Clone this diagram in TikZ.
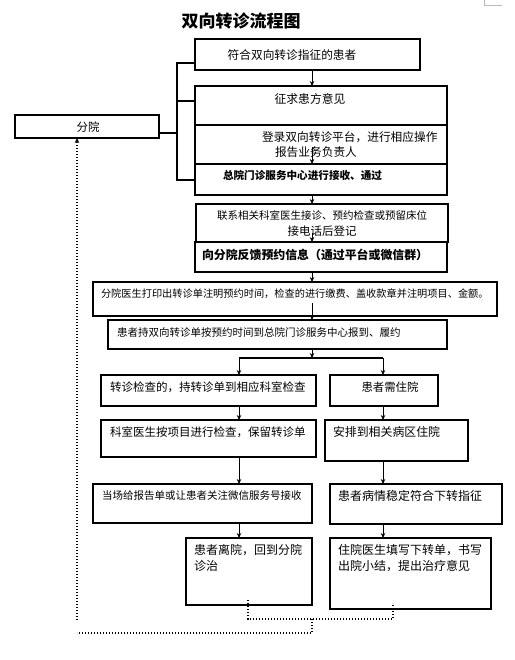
\documentclass[tikz,border=0pt]{standalone}
\usepackage{fontspec}
\setmainfont{Noto Sans CJK SC}
\usetikzlibrary{arrows.meta}
\begin{document}
\begin{tikzpicture}[x=1pt,y=-1pt,
  box/.style={draw, line width=1.8pt, inner sep=0, outer sep=0, anchor=north west},
  txt/.style={inner sep=0, outer sep=0, anchor=west},
  ctxt/.style={inner sep=0, outer sep=0, anchor=center},
  fs/.style={font=\fontsize{#1}{#1}\selectfont},
  conn/.style={line width=1pt, -{Stealth[length=5pt,width=4.5pt]}},
  plain/.style={line width=1.1pt},
  dots/.style={line width=1.2pt, dash pattern=on 1.2pt off 1.8pt}
]
\useasboundingbox (0,0) rectangle (514,660);
% page corner mark
\draw[gray!55, line width=0.7pt] (484,0) -- (484,5) -- (502,5);

% title
\node[ctxt, font=\fontsize{17}{17}\selectfont\bfseries] (title) at (241,21) {双向转诊流程图};

% boxes
\node[box, minimum width=225pt, minimum height=31pt] (b1) at (195,39) {};
\node[box, minimum width=252pt, minimum height=39pt] (b2a) at (195,86) {};
\node[box, minimum width=252pt, minimum height=39pt] (b2b) at (195,125) {};
\node[box, minimum width=252pt, minimum height=31pt] (b2c) at (195,164) {};
\node[box, minimum width=252pt, minimum height=38pt] (b4) at (196,204) {};
\node[box, minimum width=252pt, minimum height=30pt] (b5) at (195,242) {};
\node[box, minimum width=404pt, minimum height=34pt] (b6) at (93,282) {};
\node[box, minimum width=339pt, minimum height=29pt] (b7) at (108,320) {};
\node[box, minimum width=215pt, minimum height=31pt] (b8) at (101,375) {};
\node[box, minimum width=108pt, minimum height=31pt] (b9) at (330,375) {};
\node[box, minimum width=215pt, minimum height=37pt] (b10) at (101,420) {};
\node[box, minimum width=143pt, minimum height=41pt] (b11) at (325,420) {};
\node[box, minimum width=219pt, minimum height=39pt] (b12) at (93,484) {};
\node[box, minimum width=172pt, minimum height=40pt] (b13) at (330,484) {};
\node[box, minimum width=126pt, minimum height=67pt] (b14) at (186,538) {};
\node[box, minimum width=161pt, minimum height=71pt] (b15) at (330,538) {};
\node[box, minimum width=144pt, minimum height=23pt] (fen) at (15,115) {};

% texts
\node[ctxt, fs=11.7] (t1) at (292,55) {符合双向转诊指征的患者};
\node[ctxt, fs=11.8] (t2a) at (310,99) {征求患方意见};
\node[txt, fs=11.7] (t2b1) at (262,137) {登录双向转诊平台，进行相应操作};
\node[txt, fs=11.7] (t2b2) at (275,152) {报告业务负责人};
\node[txt, font=\fontsize{10.6}{11}\selectfont\bfseries] (t2c) at (223,175) {总院门诊服务中心进行接收、通过};
\node[ctxt, fs=10.5] (t4a) at (322,215) {联系相关科室医生接诊、预约检查或预留床位};
\node[ctxt, fs=11.5] (t4b) at (322,231) {接电话后登记};
\node[txt, font=\fontsize{11.9}{12}\selectfont\bfseries] (t5) at (202,255) {向分院反馈预约信息（通过平台或微信群）};
\node[txt, fs=10.2] (t6) at (101,294) {分院医生打印出转诊单注明预约时间，检查的进行缴费、盖收款章并注明项目、金额。};
\node[txt, fs=10.5] (t7) at (117,332) {患者持双向转诊单按预约时间到总院门诊服务中心报到、履约};
\node[txt, fs=11.5] (t8) at (110,387) {转诊检查的，持转诊单到相应科室检查};
\node[ctxt, fs=11.4] (t9) at (390,387) {患者需住院};
\node[txt, fs=11.5] (t10) at (110,432) {科室医生按项目进行检查，保留转诊单};
\node[txt, fs=11.9] (t11) at (333,432) {安排到相关病区住院};
\node[txt, fs=10.5] (t12) at (102,496) {当场给报告单或让患者关注微信服务号接收};
\node[txt, fs=12] (t13) at (338,496) {患者病情稳定符合下转指征};
\node[txt, fs=12] (t14a) at (194,550) {患者离院，回到分院};
\node[txt, fs=12] (t14b) at (194,566) {诊治};
\node[txt, fs=12] (t15a) at (338,550) {住院医生填写下转单，书写};
\node[txt, fs=12] (t15b) at (338,566) {出院小结，提出治疗意见};
\node[ctxt, fs=11.5] (tfen) at (88,127) {分院};

% helper coordinates
\coordinate (ax) at (312,0);
\coordinate (lx) at (239,0);
\coordinate (rx) at (383,0);
\coordinate (bx) at (177,0);
\coordinate (split) at (312,358);
\coordinate (a2s) at (312,147);
\coordinate (a4s) at (312,233);
\coordinate (a6s) at (312,303);
\coordinate (fy) at (0,133);
\coordinate (d1) at (248,600);
\coordinate (d2) at (248,619);
\coordinate (d3) at (393,619);
\coordinate (d4) at (393,603);
\coordinate (d5) at (312,619);
\coordinate (d6) at (312,633);
\coordinate (d7) at (77,633);
\coordinate (d8) at (77,620);

% bracket from 分院
\draw[plain] (b1.west |- 0,63) -- (bx |- 0,63) -- (bx |- 0,180) -- (b2c.west |- 0,180);
\draw[plain] (bx |- 0,101) -- (b2a.west |- 0,101);
\draw[plain] (fen.east |- fy) -- (bx |- fy);

% main arrows
\draw[conn] (b1.south -| ax) -- (b2a.north -| ax);
\draw[conn] (a2s) -- (b2c.north -| ax);
\draw[conn] (b2c.south -| ax) -- (b4.north -| ax);
\draw[conn] (a4s) -- (b5.north -| ax);
\draw[conn] (b5.south -| ax) -- (b6.north -| ax);
\draw[conn] (a6s) -- (b7.north -| ax);
\draw[conn] (b7.south -| ax) -- (split);
\draw[plain] (split -| lx) -- (split -| rx);
\draw[conn] (split -| lx) -- (b8.north -| lx);
\draw[conn] (split -| rx) -- (b9.north -| rx);
\draw[conn] (b8.south -| lx) -- (b10.north -| lx);
\draw[conn] (b9.south -| rx) -- (b11.north -| rx);
\draw[conn] (b10.south -| lx) -- (b12.north -| lx);
\draw[conn] (b11.south -| rx) -- (b13.north -| rx);
\draw[conn] (b12.south -| lx) -- (b14.north -| lx);
\draw[conn] (b13.south -| rx) -- (b15.north -| rx);

% dotted return to 分院
\draw[dots] (d1) -- (d2) -- (d3) -- (d4);
\draw[dots] (d5) -- (d6) -- (d7);
\draw[dots, -{Stealth[length=5pt,width=4.5pt]}] (d8) -- (fen.south -| d8);
\end{tikzpicture}
\end{document}
